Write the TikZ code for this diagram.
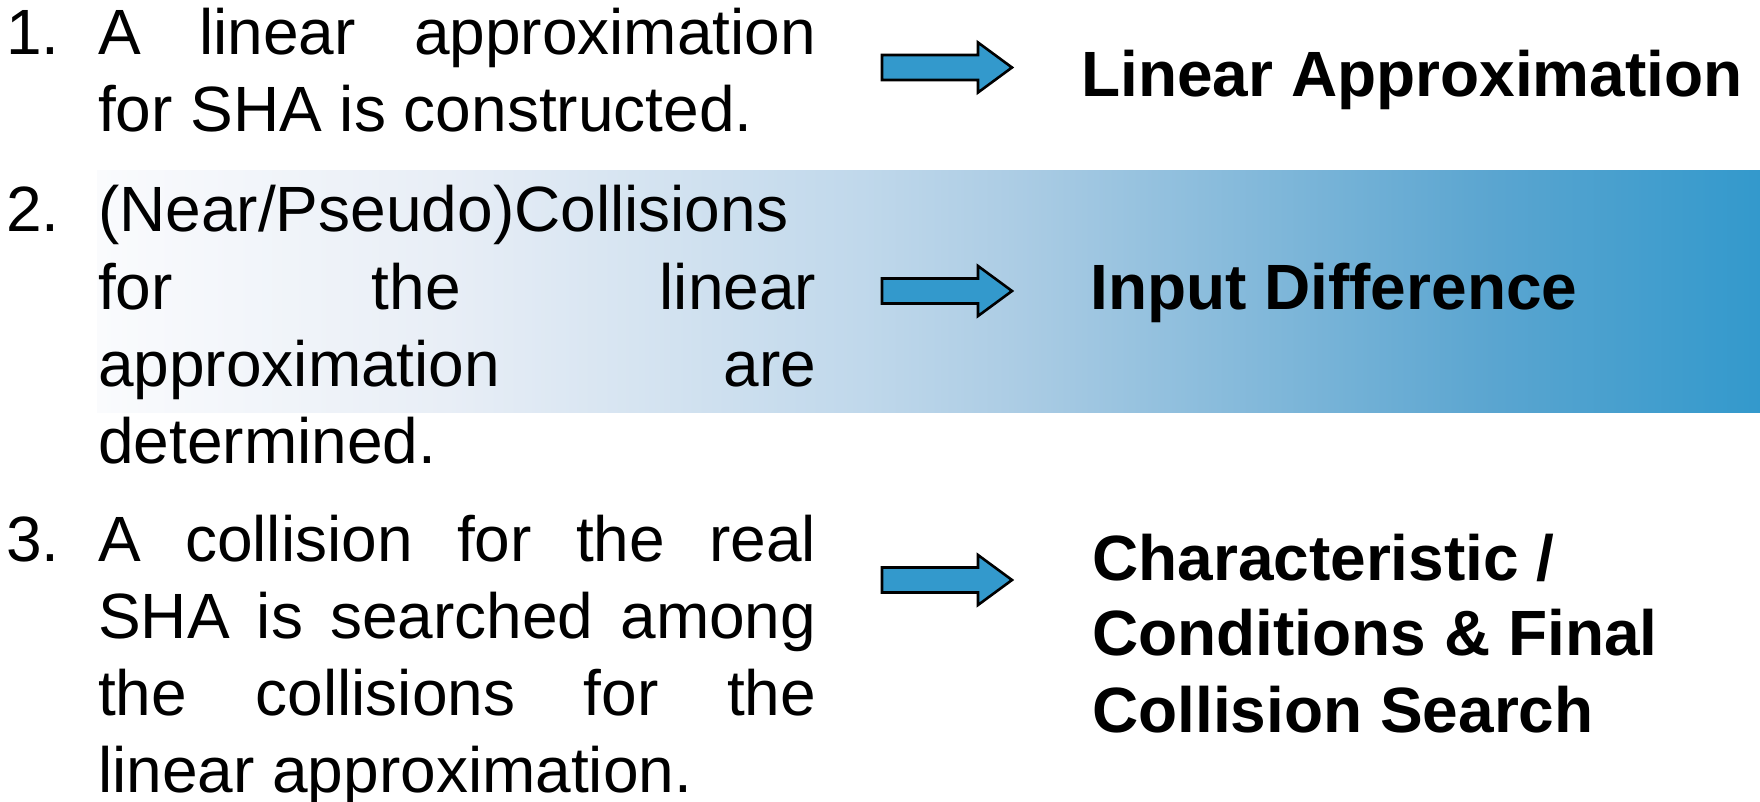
\documentclass[tikz,border=0pt]{standalone}
\usepackage{fontspec}
\setmainfont{Liberation Sans}
\definecolor{arrowblue}{RGB}{51,153,204}
\definecolor{bandc0}{RGB}{250,251,253}
\definecolor{bandc1}{RGB}{232,238,246}
\definecolor{bandc2}{RGB}{192,216,235}
\definecolor{bandc3}{RGB}{171,204,228}
\definecolor{bandc4}{RGB}{90,165,208}
\definecolor{bandc5}{RGB}{51,153,204}
\pgfdeclarehorizontalshading{bandshade}{100bp}{color(0bp)=(bandc0); color(25bp)=(bandc0); color(35.5bp)=(bandc1); color(48bp)=(bandc2); color(52.75bp)=(bandc3); color(67bp)=(bandc4); color(75bp)=(bandc5); color(100bp)=(bandc5)}
\newlength\colw
\setlength\colw{718pt}
\newcommand\jline[1]{\makebox[\colw][s]{#1}}
\newcommand\blockarr[1]{\draw[blockarrow] (#1) ++(0,-12.5) -- ++(96,0) -- ++(0,-12.5) -- ++(34,25) -- ++(-34,25) -- ++(0,-12.5) -- ++(-96,0) -- cycle;}
\begin{document}
\begin{tikzpicture}[x=1pt,y=-1pt,
  txt/.style={anchor=base west, inner sep=0pt, font=\fontsize{64}{77}\selectfont},
  res/.style={anchor=base west, inner sep=0pt, font=\fontsize{64}{77}\selectfont\bfseries},
  blockarrow/.style={fill=arrowblue, draw=black, line width=2.6pt, line join=miter}]
\useasboundingbox (0,0) rectangle (1760,802);
\fill[shading=bandshade] (97,171) rectangle (1760,412);
% item 1
\node[txt] (n1) at (6,55) {1.};
\node[txt] (t1a) at (98,55) {\jline{A linear approximation}};
\node[txt] (t1b) at (98,132) {for SHA is constructed.};
% item 2
\node[txt] (n2) at (6,232) {2.};
\node[txt] (t2a) at (98,232) {(Near/Pseudo)Collisions};
\node[txt] (t2b) at (98,309) {\jline{for the linear}};
\node[txt] (t2c) at (98,386) {\jline{approximation are}};
\node[txt] (t2d) at (98,463) {determined.};
% item 3
\node[txt] (n3) at (6,561) {3.};
\node[txt] (t3a) at (98,561) {\jline{A collision for the real}};
\node[txt] (t3b) at (98,638) {\jline{SHA is searched among}};
\node[txt] (t3c) at (98,715) {\jline{the collisions for the}};
\node[txt] (t3d) at (98,792) {linear approximation.};
% arrows
\coordinate (a1) at (882,67.5);
\coordinate (a2) at (882,291);
\coordinate (a3) at (882,580);
\blockarr{a1}
\blockarr{a2}
\blockarr{a3}
% results
\node[res] (r1) at (1081,97) {Linear Approximation};
\node[res] (r2) at (1090,309) {Input Difference};
\node[res] (r3a) at (1092,580) {Characteristic /};
\node[res] (r3b) at (1092,655) {Conditions \& Final};
\node[res] (r3c) at (1092,732) {Collision Search};
\end{tikzpicture}
\end{document}
